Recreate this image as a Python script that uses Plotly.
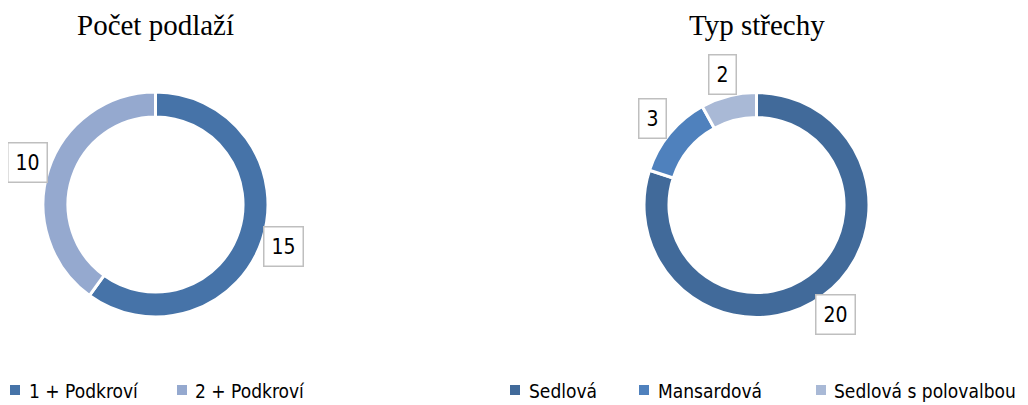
import math
import plotly.graph_objects as go

W, H = 1028, 405
OFF = 8  # default page body margin

# Data
floors_labels = ["1 + Podkroví", "2 + Podkroví"]
floors_values = [15, 10]
floors_colors = ["#4673A8", "#95A9CF"]

roof_labels = ["Sedlová", "Mansardová", "Sedlová s polovalbou"]
roof_values = [20, 3, 2]
roof_colors = ["#416A9A", "#4F81BD", "#A9B9D6"]

titles = ["Počet podlaží", "Typ střechy"]

LABEL_FONT = "DejaVu Sans Condensed, Liberation Sans Narrow, sans-serif"

charts = [
    dict(labels=floors_labels, values=floors_values, colors=floors_colors,
         cx=155.5, cy=204.5, R=112.5, title=titles[0],
         legend_sq=[10, 177], legend_tx=[27, 193]),
    dict(labels=roof_labels, values=roof_values, colors=roof_colors,
         cx=756.5, cy=205, R=112.5, title=titles[1],
         legend_sq=[510, 639, 816], legend_tx=[527, 656, 832]),
]

FW, FH = W - OFF, H - OFF


def px(x):
    return (x - OFF) / FW


def py(y):
    return 1 - (y - OFF) / FH


fig = go.Figure()
annotations = []
shapes = []

for c in charts:
    fig.add_trace(go.Pie(
        labels=c["labels"], values=c["values"],
        marker=dict(colors=c["colors"], line=dict(color="white", width=3)),
        hole=0.778, sort=False, direction="clockwise", rotation=0,
        textinfo="none", hoverinfo="label+value", showlegend=False,
        domain=dict(x=[px(c["cx"] - c["R"]), px(c["cx"] + c["R"])],
                    y=[py(c["cy"] + c["R"]), py(c["cy"] - c["R"])]),
    ))
    annotations.append(dict(
        text=c["title"], x=px(c["cx"]), y=py(25), xref="paper", yref="paper",
        xanchor="center", yanchor="middle", showarrow=False,
        font=dict(family="Liberation Serif, Times New Roman, serif", size=29, color="#000000"),
    ))
    total = sum(c["values"])
    start = 0.0
    for v in c["values"]:
        ang = (start + v / 2) / total * 2 * math.pi
        start += v
        r = c["R"] * 1.2
        lx = c["cx"] + r * math.sin(ang)
        ly = c["cy"] - r * math.cos(ang)
        annotations.append(dict(
            text=str(v), x=px(lx), y=py(ly), xref="paper", yref="paper",
            xanchor="center", yanchor="middle", showarrow=False,
            font=dict(family=LABEL_FONT, size=21, color="#000000"),
            bgcolor="white", bordercolor="#BFBFBF", borderwidth=1.5, borderpad=7,
        ))
    for lab, col, sx, tx in zip(c["labels"], c["colors"], c["legend_sq"], c["legend_tx"]):
        shapes.append(dict(
            type="rect", xref="paper", yref="paper",
            x0=px(sx), x1=px(sx + 10), y0=py(395), y1=py(385),
            fillcolor=col, line=dict(width=0),
        ))
        annotations.append(dict(
            text=lab, x=px(tx), y=py(391), xref="paper", yref="paper",
            xanchor="left", yanchor="middle", showarrow=False,
            font=dict(family=LABEL_FONT, size=19, color="#000000"),
        ))

fig.update_layout(
    width=FW, height=FH,
    margin=dict(l=0, r=0, t=0, b=0),
    paper_bgcolor="white", plot_bgcolor="white",
    showlegend=False,
    annotations=annotations,
    shapes=shapes,
)

fig.write_html("out.html")
